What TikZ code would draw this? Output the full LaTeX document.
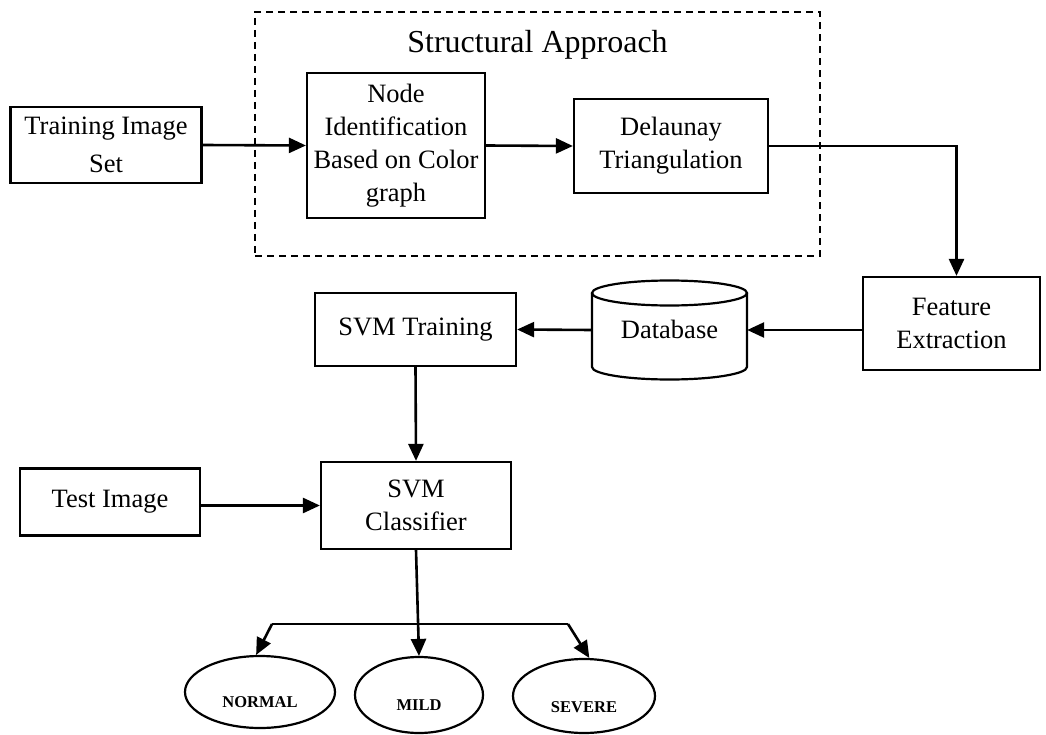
\documentclass[tikz,border=0pt]{standalone}
\usepackage{fontspec}
\setmainfont{Liberation Serif}
\usetikzlibrary{arrows.meta,shapes.geometric}
\begin{document}
\begin{tikzpicture}[x=1pt,y=-1pt,
  box/.style={draw,line width=2.2pt,align=center,inner sep=0pt,
    font=\fontsize{26.5}{33}\selectfont},
  conn/.style={line width=2.6pt,-{Triangle[length=17pt,width=15pt]}},
  plain/.style={line width=2.6pt},
  outcome/.style={draw,ellipse,line width=2.2pt,inner sep=0pt},
  outtext/.style={font=\fontsize{16.5}{16.5}\selectfont\bfseries},
]
\useasboundingbox (0,0) rectangle (1046,735);

% structural approach group
\node[draw,line width=1.6pt,dash pattern=on 7pt off 5pt,
  minimum width=565,minimum height=244,inner sep=0pt] (group) at (537.5,134) {};
\node[font=\fontsize{32}{32}\selectfont] (grouptitle) at (537.5,45) {Structural Approach};

% processing blocks
\node[box,minimum width=191,minimum height=76,font=\fontsize{26.5}{38}\selectfont]
  (train) at (106,145) {Training Image\\Set};
\node[box,minimum width=178,minimum height=145] (nodeid) at (396,145.5)
  {Node\\Identification\\Based on Color\\graph};
\node[box,minimum width=194,minimum height=94] (del) at (671,146)
  {Delaunay\\Triangulation};
\node[box,minimum width=177,minimum height=93] (feat) at (951.5,323.5)
  {Feature\\Extraction};

% database cylinder
\draw[line width=2.2pt] (669.5,293) ellipse[x radius=77.5,y radius=12.5];
\draw[line width=2.2pt] (592,293) -- (592,367)
  arc[start angle=180,end angle=0,x radius=77.5,y radius=12.5] -- (747,293);
\node[minimum width=155,minimum height=74,inner sep=0pt,
  font=\fontsize{26.5}{33}\selectfont] (db) at (669.5,330) {\raisebox{2pt}{Database}};

\node[box,minimum width=201,minimum height=73] (svmt) at (415.5,329.5) {SVM Training};
\node[box,minimum width=190,minimum height=87] (cls) at (416,505.5) {SVM\\Classifier};
\node[box,minimum width=180,minimum height=67] (test) at (110,502) {Test Image};

% outcomes
\node[outcome,minimum width=150,minimum height=72,
  label={[outtext,yshift=-10pt]center:NORMAL}] (normal) at (260,692) {};
\node[outcome,minimum width=128,minimum height=76,
  label={[outtext,yshift=-10pt]center:MILD}] (mild) at (419,695) {};
\node[outcome,minimum width=142,minimum height=74,
  label={[outtext,yshift=-11pt]center:SEVERE}] (severe) at (584,696) {};

% connectors
\draw[conn] (train.east) -- (nodeid.west);
\draw[conn] (nodeid.east) -- (del.west);
\draw[conn] (del.east) -| ([xshift=5pt]feat.north);
\draw[conn] (db.east -| feat.west) -- (db.east);
\draw[conn] (db.west) -- (svmt.east);
\draw[conn] (svmt.south) -- (cls.north);
\draw[conn] (test.east |- cls.west) -- (cls.west);
\draw[conn] (cls.south) -- (mild.north);

\coordinate (bl) at (272,624);
\coordinate (br) at (568,624);
\draw[plain] (bl) -- (br);
\draw[conn] (bl) -- (normal.96);
\draw[conn] (br) -- (severe.82);
\end{tikzpicture}
\end{document}
